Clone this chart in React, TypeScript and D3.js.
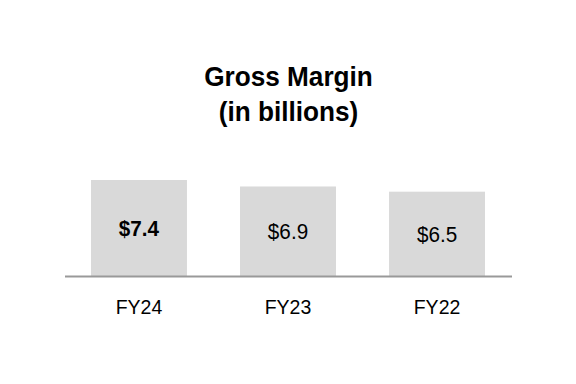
import React from "react";
import * as d3 from "d3";

const categories = ["FY24", "FY23", "FY22"];
const values = [7.4, 6.9, 6.5];
const valueLabels = ["$7.4", "$6.9", "$6.5"];
const boldFlags = [true, false, false];
const titleLines = ["Gross Margin", "(in billions)"];

export default function App() {
  const W = 576;
  const H = 384;
  const x = d3.scaleBand<string>().domain(categories).range([91, 485]).paddingInner(0.356).paddingOuter(0);
  const y = d3.scaleLinear().domain([0, 7.4]).range([276, 180]);
  const font = "'Liberation Sans', Arial, sans-serif";
  return (
    <svg width={W} height={H} style={{ position: "absolute", left: 0, top: 0, background: "#fff" }}>
      <rect x={0} y={0} width={W} height={H} fill="#fff" />
      {titleLines.map((t, i) => (
        <text
          key={t}
          transform={`translate(288.5,${86 + i * 35}) scale(0.97,1)`}
          textAnchor="middle"
          fontFamily={font}
          fontWeight="bold"
          fontSize={27}
          fill="#000"
        >
          {t}
        </text>
      ))}
      {categories.map((c, i) => {
        const bx = x(c)!;
        const by = y(values[i]);
        const bh = y(0) - by;
        const cx = bx + x.bandwidth() / 2;
        return (
          <g key={c}>
            <rect x={bx} y={by} width={x.bandwidth()} height={bh} fill="#d9d9d9" />
            <text
              transform={`translate(${cx},${by + bh / 2 + 8}) scale(0.92,1)`}
              textAnchor="middle"
              fontFamily={font}
              fontSize={22.5}
              fontWeight={boldFlags[i] ? "bold" : "normal"}
              fill="#000"
            >
              {valueLabels[i]}
            </text>
            <text
              transform={`translate(${cx},313.5) scale(0.93,1)`}
              textAnchor="middle"
              fontFamily={font}
              fontSize={21}
              fill="#000"
            >
              {c}
            </text>
          </g>
        );
      })}
      <line x1={65} x2={512} y1={y(0) + 0.5} y2={y(0) + 0.5} stroke="#999" strokeWidth={2} />
    </svg>
  );
}
